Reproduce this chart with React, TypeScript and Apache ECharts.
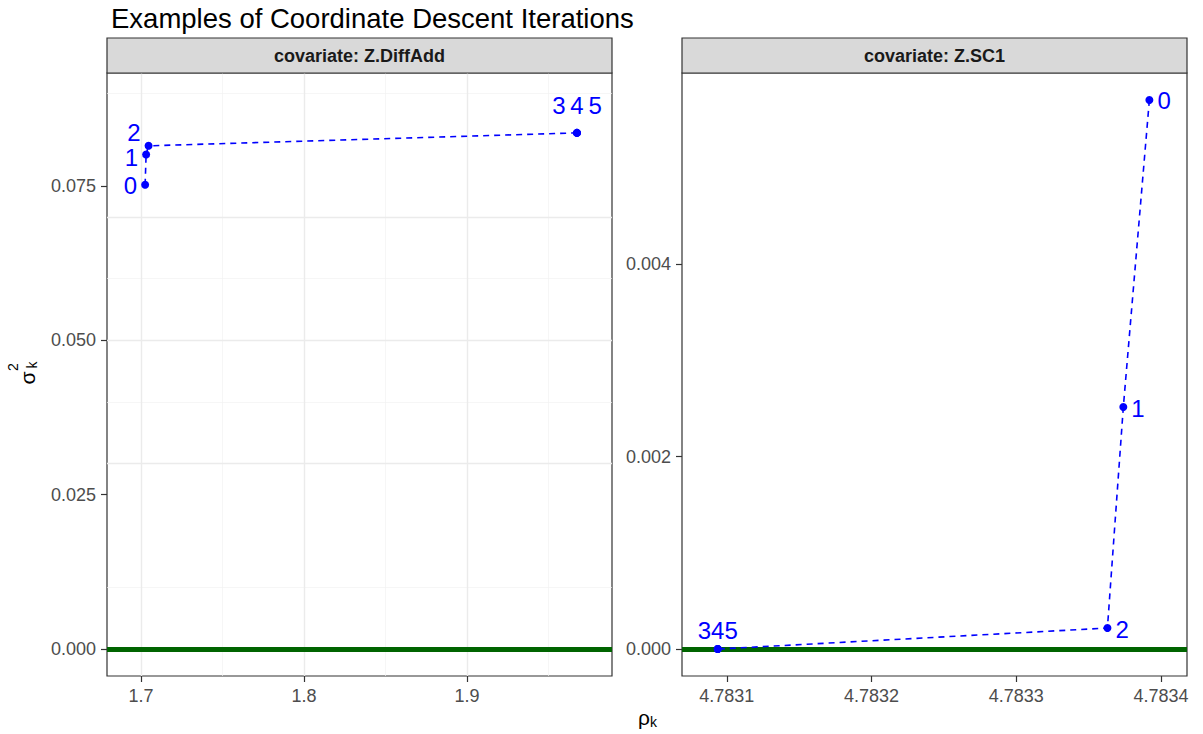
import React, { useEffect, useRef } from 'react';
import * as echarts from 'echarts';

const titleText = 'Examples of Coordinate Descent Iterations';
const panelNames = ['covariate: Z.DiffAdd', 'covariate: Z.SC1'];
const iterations = ['0', '1', '2', '3', '4', '5'];

const leftRho = [1.7025, 1.7031, 1.7046, 1.9675, 1.9675, 1.9675];
const leftSigma = [0.0752, 0.0801, 0.0815, 0.0836, 0.0836, 0.0836];
const rightRho = [4.783392, 4.783374, 4.783363, 4.7830937, 4.7830937, 4.7830937];
const rightSigma = [0.005704, 0.002514, 0.000218, 0, 0, 0];

const leftXTicks = [1.7, 1.8, 1.9];
const leftXMinor = [1.75, 1.85, 1.95];
const leftYTicks = [0, 0.025, 0.05, 0.075];
const leftYMinor = [0.0125, 0.0375, 0.0625, 0.0875];
const rightXTicks = [4.7831, 4.7832, 4.7833, 4.7834];
const rightXMinor = [4.78315, 4.78325, 4.78335];
const rightYTicks = [0, 0.002, 0.004];
const rightYMinor = [0.001, 0.003, 0.005];

const leftXRange = [1.6791, 1.989];
const leftYRange = [-0.0044, 0.0933];
const rightXRange = [4.783069, 4.783418];
const rightYRange = [-0.00028, 0.005984];
const referenceSigma = 0;

const FONT = '"Liberation Sans", Arial, sans-serif';
const BLUE = '#0000ff';

const GRID_TOP = 73;
const GRID_H = 603;
const GRID_W = 505;
const GRID_LEFTS = [107, 682];

function buildPanel(
  idx: number,
  rho: number[],
  sigma: number[],
  xRange: number[],
  yRange: number[],
  xTicks: number[],
  xMinor: number[],
  yTicks: number[],
  yMinor: number[],
  xDigits: number,
  labelSide: string,
  groupSep: string,
  groupDistance: number
) {
  const xAxis = {
    type: 'value',
    gridIndex: idx,
    min: xRange[0],
    max: xRange[1],
    axisLine: { show: false, onZero: false },
    splitLine: { show: false },
    axisTick: {
      show: true,
      customValues: xTicks,
      length: 6,
      lineStyle: { color: '#333333', width: 1.2 },
    },
    axisLabel: {
      show: true,
      customValues: xTicks,
      formatter: (v: number) => v.toFixed(xDigits),
      color: '#4d4d4d',
      fontSize: 18,
      fontFamily: FONT,
      margin: 11,
    },
  };
  const yAxis = {
    type: 'value',
    gridIndex: idx,
    min: yRange[0],
    max: yRange[1],
    axisLine: { show: false, onZero: false },
    splitLine: { show: false },
    axisTick: {
      show: true,
      customValues: yTicks,
      length: 6,
      lineStyle: { color: '#333333', width: 1.2 },
    },
    axisLabel: {
      show: true,
      customValues: yTicks,
      formatter: (v: number) => v.toFixed(3),
      color: '#4d4d4d',
      fontSize: 18,
      fontFamily: FONT,
      margin: 11,
    },
  };

  const data: any[] = [];
  for (let i = 0; i < rho.length; i++) {
    let dup = false;
    for (let j = 0; j < i; j++) {
      if (rho[j] === rho[i] && sigma[j] === sigma[i]) { dup = true; break; }
    }
    if (dup) {
      data.push({ value: [rho[i], sigma[i]], label: { show: false } });
      continue;
    }
    const same: string[] = [];
    for (let j = i; j < rho.length; j++) {
      if (rho[j] === rho[i] && sigma[j] === sigma[i]) same.push(iterations[j]);
    }
    const grouped = same.length > 1;
    let offset = [0, 1];
    if (labelSide === 'left' && i === 2) offset = [0, -13];
    if (labelSide === 'left' && i === 1) offset = [0, 3];
    data.push({
      value: [rho[i], sigma[i]],
      label: {
        show: true,
        position: grouped ? 'top' : labelSide,
        distance: grouped ? groupDistance : 4,
        formatter: same.join(groupSep),
        offset,
        lineHeight: 20,
      },
    });
  }

  const gridLines: any[] = [];
  xMinor.forEach((v) => gridLines.push({ xAxis: v, lineStyle: { color: '#f2f2f2', width: 0.7, type: 'solid' } }));
  yMinor.forEach((v) => gridLines.push({ yAxis: v, lineStyle: { color: '#f2f2f2', width: 0.7, type: 'solid' } }));
  xTicks.forEach((v) => gridLines.push({ xAxis: v, lineStyle: { color: '#ebebeb', width: 1.4, type: 'solid' } }));
  yTicks.forEach((v) => gridLines.push({ yAxis: v, lineStyle: { color: '#ebebeb', width: 1.4, type: 'solid' } }));
  gridLines.push({ yAxis: referenceSigma, lineStyle: { color: '#006400', width: 5, type: 'solid' } });

  const series = [
    {
      type: 'line',
      xAxisIndex: idx,
      yAxisIndex: idx,
      data: rho.map((r, i) => [r, sigma[i]]),
      showSymbol: false,
      lineStyle: { opacity: 0, width: 0 },
      silent: true,
      z: 1,
      markLine: {
        silent: true,
        symbol: ['none', 'none'],
        label: { show: false },
        emphasis: { disabled: true },
        data: gridLines,
      },
    },
    {
      type: 'line',
      xAxisIndex: idx,
      yAxisIndex: idx,
      data,
      z: 5,
      symbol: 'circle',
      symbolSize: 8,
      itemStyle: { color: BLUE },
      lineStyle: { color: BLUE, width: 1.6, type: [6, 5] },
      label: {
        color: BLUE,
        fontSize: 24,
        fontFamily: FONT,
      },
    },
  ];
  return { xAxis, yAxis, series };
}

export default function App() {
  const ref = useRef<HTMLDivElement>(null);
  useEffect(() => {
    if (!ref.current) return;
    const chart = echarts.init(ref.current, undefined, { renderer: 'svg' });
    const p0 = buildPanel(0, leftRho, leftSigma, leftXRange, leftYRange, leftXTicks, leftXMinor, leftYTicks, leftYMinor, 1, 'left', '\u2009', 14);
    const p1 = buildPanel(1, rightRho, rightSigma, rightXRange, rightYRange, rightXTicks, rightXMinor, rightYTicks, rightYMinor, 4, 'right', '', 6);

    const graphics: any[] = [];
    GRID_LEFTS.forEach((l, i) => {
      graphics.push({
        type: 'rect',
        shape: { x: l, y: 38, width: GRID_W, height: 35 },
        style: { fill: '#d9d9d9', stroke: '#333333', lineWidth: 1.2 },
        z: 10,
      });
      graphics.push({
        type: 'text',
        x: l + GRID_W / 2,
        y: 56,
        style: {
          text: panelNames[i],
          fill: '#1a1a1a',
          font: `bold 18px ${FONT}`,
          align: 'center',
          verticalAlign: 'middle',
        },
        z: 11,
      });
    });
    graphics.push({
      type: 'group',
      x: 27,
      y: 378,
      rotation: Math.PI / 2,
      children: [
        { type: 'text', x: 0, y: 0, style: { text: 'σ', fill: '#000', font: `21px ${FONT}`, align: 'center', verticalAlign: 'middle' } },
        { type: 'text', x: 11, y: -14, style: { text: '2', fill: '#000', font: `14px ${FONT}`, align: 'center', verticalAlign: 'middle' } },
        { type: 'text', x: 13, y: 5, style: { text: 'k', fill: '#000', font: `14px ${FONT}`, align: 'center', verticalAlign: 'middle' } },
      ],
    });
    graphics.push({ type: 'text', x: 650, y: 717, style: { text: 'ρ', fill: '#000', font: `21px ${FONT}`, align: 'right', verticalAlign: 'middle' } });
    graphics.push({ type: 'text', x: 650, y: 722, style: { text: 'k', fill: '#000', font: `14px ${FONT}`, align: 'left', verticalAlign: 'middle' } });

    chart.setOption({
      animation: false,
      backgroundColor: '#ffffff',
      title: {
        text: titleText,
        left: 106,
        top: -1,
        textStyle: { fontSize: 27.5, fontWeight: 'normal', color: '#000', fontFamily: FONT },
      },
      grid: GRID_LEFTS.map((l) => ({
        left: l,
        top: GRID_TOP,
        width: GRID_W,
        height: GRID_H,
        show: true,
        borderColor: '#333333',
        borderWidth: 1.2,
        backgroundColor: 'transparent',
        containLabel: false,
      })),
      xAxis: [p0.xAxis, p1.xAxis],
      yAxis: [p0.yAxis, p1.yAxis],
      series: [...p0.series, ...p1.series],
      graphic: graphics,
    });
    return () => chart.dispose();
  }, []);
  return <div ref={ref} style={{ position: 'fixed', left: 0, top: 0, width: 1203, height: 734 }} />;
}
